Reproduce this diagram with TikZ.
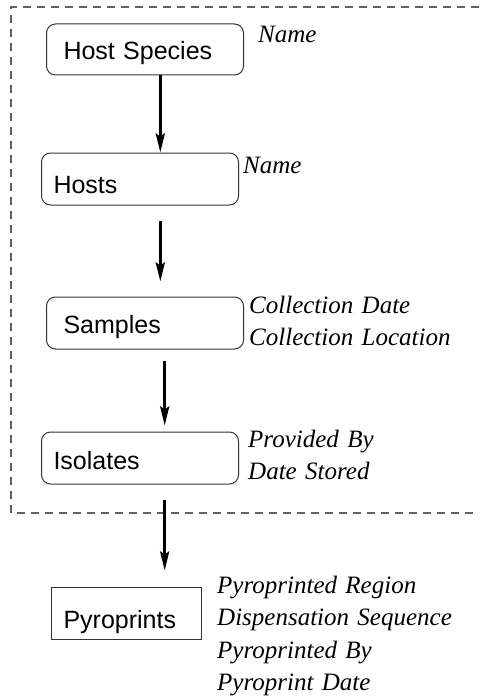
\documentclass[tikz,border=0pt]{standalone}
\usepackage{fontspec}
\setmainfont{Liberation Serif}
\newfontfamily\boxfont{Liberation Sans}
\usetikzlibrary{arrows.meta}
\definecolor{framegray}{HTML}{333333}
\definecolor{dashgray}{HTML}{606060}
\begin{document}
\begin{tikzpicture}[x=1pt,y=-1pt,
  entity/.style={draw=framegray, line width=1pt, rounded corners=9pt,
    font=\boxfont\fontsize{25}{30}\selectfont, inner ysep=0pt,
    anchor=base west, align=left},
  plainbox/.style={entity, rounded corners=0pt},
  attrs/.style={font=\itshape\fontsize{25}{32.5}\selectfont, inner sep=0pt,
    anchor=base west, align=left, text width=260pt},
  link/.style={line width=3pt, -{Stealth[length=19pt,width=9pt,inset=3pt]}},
  region/.style={draw=dashgray, line width=1.1pt, dash pattern=on 8pt off 6pt}]
\useasboundingbox (0,0) rectangle (479,698);

% dashed region around the first four entities
\draw[region] (479,7) -- (11,7) -- (11,513) -- (479,513);

% entities
\node[entity, inner xsep=17pt, text width=163pt, text height=36pt, text depth=15pt]
  (species) at (46,60) {Host Species};
\node[entity, inner xsep=12pt, text width=173pt, text height=40pt, text depth=12pt]
  (hosts) at (41,193) {Hosts};
\node[entity, inner xsep=17pt, text width=163pt, text height=36pt, text depth=16pt]
  (samples) at (46,333) {Samples};
\node[entity, inner xsep=12pt, text width=173pt, text height=37pt, text depth=15pt]
  (isolates) at (41,469) {Isolates};
\node[plainbox, inner xsep=12pt, text width=126pt, text height=41pt, text depth=11pt]
  (pyro) at (51,628) {Pyroprints};

% attributes
\node[attrs] (speciesattr) at (258,43) {Name};
\node[attrs] (hostsattr) at (243,173) {Name};
\node[attrs] (samplesattr) at (249,313) {Collection Date\\Collection Location};
\node[attrs] (isolatesattr) at (248,447) {Provided By\\Date Stored};
\node[attrs] (pyroattr) at (217,593)
  {Pyroprinted Region\\Dispensation Sequence\\Pyroprinted By\\Pyroprint Date};

% arrow columns
\coordinate (colA) at (160.3,0);
\coordinate (colB) at (164.7,0);

% relations
\draw[link] (species.south -| colA) -- (hosts.north -| colA);
\draw[link] ([yshift=-15pt]hosts.south -| colA) -- ([yshift=15pt]samples.north -| colA);
\draw[link] ([yshift=-11pt]samples.south -| colB) -- ([yshift=6pt]isolates.north -| colB);
\draw[link] ([yshift=-15pt]isolates.south -| colB) -- ([yshift=16pt]pyro.north -| colB);
\end{tikzpicture}
\end{document}
